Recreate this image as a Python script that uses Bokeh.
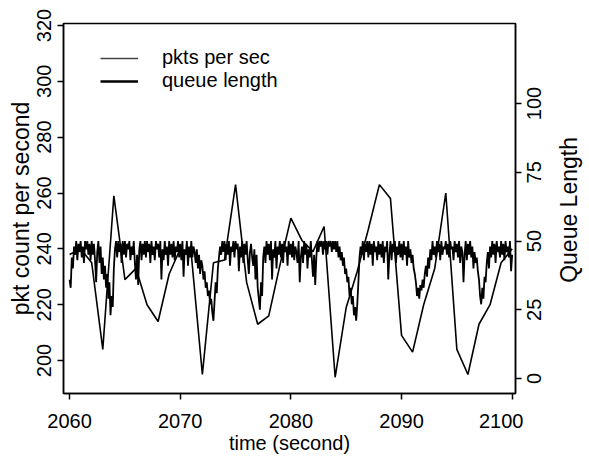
import math
from bokeh.plotting import figure
from bokeh.layouts import row
from bokeh.models import Range1d, LinearAxis, FixedTicker, Legend, LegendItem
from bokeh.core.properties import value
from bokeh.embed import file_html
from bokeh.resources import INLINE

# ---- data ----
seconds = list(range(2060, 2101))
pkts_per_sec = [238, 240, 235, 204, 259, 229, 233, 220, 214, 231,
                240, 238, 195, 235, 236, 263, 228, 213, 216, 234,
                251, 243, 239, 248, 194, 219, 232, 247, 263, 258,
                209, 203, 220, 233, 260, 204, 195, 213, 220, 235, 240]

# queue length sampled every 0.1 s (one row per second)
queue_length = [
    36, 33, 44, 40, 48, 45, 50, 43, 49, 46,   # 2060
    50, 44, 48, 42, 50, 47, 50, 45, 49, 43,   # 2061
    50, 45, 49, 43, 35, 46, 50, 42, 48, 38,   # 2062
    44, 36, 41, 33, 38, 29, 35, 23, 30, 26,   # 2063
    40, 47, 50, 44, 50, 46, 49, 42, 50, 45,   # 2064
    50, 44, 49, 47, 50, 43, 48, 45, 50, 42,   # 2065
    36, 45, 34, 47, 50, 43, 49, 45, 50, 44,   # 2066
    50, 46, 49, 42, 50, 45, 48, 43, 50, 47,   # 2067
    49, 44, 50, 36, 47, 43, 50, 45, 48, 41,   # 2068
    50, 45, 49, 44, 50, 43, 48, 46, 50, 44,   # 2069
    49, 43, 50, 37, 47, 45, 50, 41, 48, 44,   # 2070
    50, 44, 48, 46, 42, 47, 40, 45, 38, 43,   # 2071
    41, 36, 39, 33, 35, 30, 32, 27, 29, 24,   # 2072
    21, 28, 35, 31, 40, 44, 48, 45, 50, 46,   # 2073
    50, 43, 49, 45, 50, 41, 48, 46, 50, 44,   # 2074
    50, 47, 49, 39, 48, 44, 50, 42, 49, 45,   # 2075
    50, 43, 38, 46, 49, 44, 41, 47, 36, 45,   # 2076
    33, 29, 25, 35, 30, 44, 48, 42, 50, 45,   # 2077
    49, 43, 50, 36, 47, 44, 50, 40, 48, 45,   # 2078
    50, 44, 49, 42, 50, 46, 48, 41, 50, 45,   # 2079
    49, 44, 50, 43, 48, 46, 42, 50, 35, 44,   # 2080
    48, 42, 50, 45, 49, 40, 47, 44, 50, 43,   # 2081
    37, 45, 34, 44, 50, 46, 50, 48, 50, 45,   # 2082
    50, 47, 50, 45, 50, 48, 50, 46, 50, 47,   # 2083
    50, 46, 50, 44, 48, 43, 46, 41, 44, 38,   # 2084
    40, 35, 37, 30, 33, 27, 30, 23, 26, 21,   # 2085
    27, 35, 44, 48, 45, 50, 43, 49, 46, 50,   # 2086
    44, 50, 45, 49, 41, 50, 46, 48, 43, 50,   # 2087
    45, 49, 44, 50, 42, 48, 46, 50, 36, 45,   # 2088
    50, 43, 49, 46, 50, 42, 48, 45, 50, 44,   # 2089
    49, 43, 50, 45, 48, 41, 50, 44, 47, 42,   # 2090
    45, 40, 38, 35, 30, 33, 29, 34, 32, 36,   # 2091
    33, 38, 41, 37, 44, 40, 47, 43, 50, 45,   # 2092
    48, 44, 50, 46, 49, 43, 50, 45, 48, 47,   # 2093
    50, 45, 49, 44, 50, 47, 48, 43, 50, 46,   # 2094
    49, 44, 50, 42, 48, 46, 35, 45, 50, 43,   # 2095
    49, 45, 50, 44, 48, 40, 46, 42, 44, 39,   # 2096
    36, 30, 27, 33, 29, 37, 35, 42, 46, 40,   # 2097
    48, 44, 50, 45, 49, 42, 50, 46, 48, 44,   # 2098
    50, 45, 49, 43, 50, 46, 48, 44, 50, 39,   # 2099
    45,                                       # 2100
]
queue_time = [2060 + i / 10 for i in range(len(queue_length))]

x_ticks = [2060, 2070, 2080, 2090, 2100]
pkt_ticks = [200, 220, 240, 260, 280, 300, 320]
queue_ticks = [0, 25, 50, 75, 100]
queue_tick_labels = [str(v) for v in queue_ticks]

FONT = "Liberation Sans"
FS = "20px"
FS_VT = "23px"   # rotated axis titles
H = 457
TOP, BOTTOM = 23, 64
Q_RANGE = (-5.45, 129.1)
STRIP_W = 62

p = figure(width=523, height=H,
           x_range=Range1d(2059.45, 2100.3),
           y_range=Range1d(188.2, 320.7),
           output_backend="svg", toolbar_location=None,
           min_border_left=63, min_border_right=8,
           min_border_top=TOP, min_border_bottom=BOTTOM)
p.extra_y_ranges = {"q": Range1d(*Q_RANGE)}
p.xgrid.visible = False
p.ygrid.visible = False
p.outline_line_color = "black"
p.outline_line_width = 1.5
p.background_fill_color = "white"
p.border_fill_color = "white"

right = LinearAxis(y_range_name="q")
p.add_layout(right, "right")

def style(ax, ticks):
    ax.ticker = FixedTicker(ticks=ticks)
    ax.minor_tick_line_color = None
    ax.major_tick_in = 0
    ax.major_tick_out = 6
    ax.major_tick_line_width = 1.5
    ax.axis_line_width = 1.5
    ax.major_label_text_font = FONT
    ax.major_label_text_font_size = FS
    ax.major_label_text_color = "black"
    ax.axis_label_text_font = FONT
    ax.axis_label_text_font_size = FS
    ax.axis_label_text_font_style = "normal"
    ax.axis_label_text_color = "black"

bx = p.below[0]
style(bx, x_ticks)
bx.axis_label = "time (second)"
bx.major_label_standoff = 14
bx.axis_label_standoff = 1

ly = p.left[0]
style(ly, pkt_ticks)
ly.axis_label = "pkt count per second"
ly.axis_label_text_font_size = FS_VT
ly.major_label_orientation = "vertical"
ly.major_label_standoff = 6
ly.axis_label_standoff = 1

style(right, queue_ticks)
right.major_label_overrides = {v: "" for v in queue_ticks}
right.major_label_text_font_size = "0px"
right.major_label_standoff = 0

r_pkt = p.line(seconds, pkts_per_sec, line_color="black", line_width=1.6)
r_q = p.line(queue_time, queue_length, y_range_name="q",
             line_color="black", line_width=1.8)

nan = float("nan")
leg_pkt = p.line([2080], [nan], line_color="#444444", line_width=1.3)
leg_q = p.line([2080], [nan], line_color="black", line_width=2.5)

legend = Legend(items=[LegendItem(label="pkts per sec", renderers=[leg_pkt]),
                       LegendItem(label="queue length", renderers=[leg_q])],
                location=(37, 301), padding=0, margin=0, spacing=0,
                glyph_width=38, glyph_height=20, label_height=20,
                label_standoff=24,
                label_text_font=FONT, label_text_font_size=FS,
                label_text_color="black",
                border_line_alpha=0, background_fill_alpha=0)
p.add_layout(legend)

# right-hand strip: queue-length tick labels and title, reading bottom-to-top
p2 = figure(width=STRIP_W, height=H, x_range=Range1d(0, STRIP_W), y_range=Range1d(*Q_RANGE),
            output_backend="svg", toolbar_location=None,
            x_axis_location=None, y_axis_location=None,
            min_border_left=0, min_border_right=0,
            min_border_top=TOP, min_border_bottom=BOTTOM)
p2.xgrid.visible = False
p2.ygrid.visible = False
p2.outline_line_color = None
p2.background_fill_color = "white"
p2.border_fill_color = "white"
p2.text(x=[10.5] * len(queue_ticks), y=queue_ticks, text=queue_tick_labels,
        angle=math.pi / 2, text_align="center", text_baseline="middle",
        text_font=value(FONT), text_font_size=value(FS), text_color="black")
p2.text(x=[45], y=[61.3], text=["Queue Length"],
        angle=math.pi / 2, text_align="center", text_baseline="middle",
        text_font=value(FONT), text_font_size=value(FS_VT), text_color="black")

layout = row(p, p2, spacing=0)
open("out.html", "w").write(file_html(layout, INLINE))
